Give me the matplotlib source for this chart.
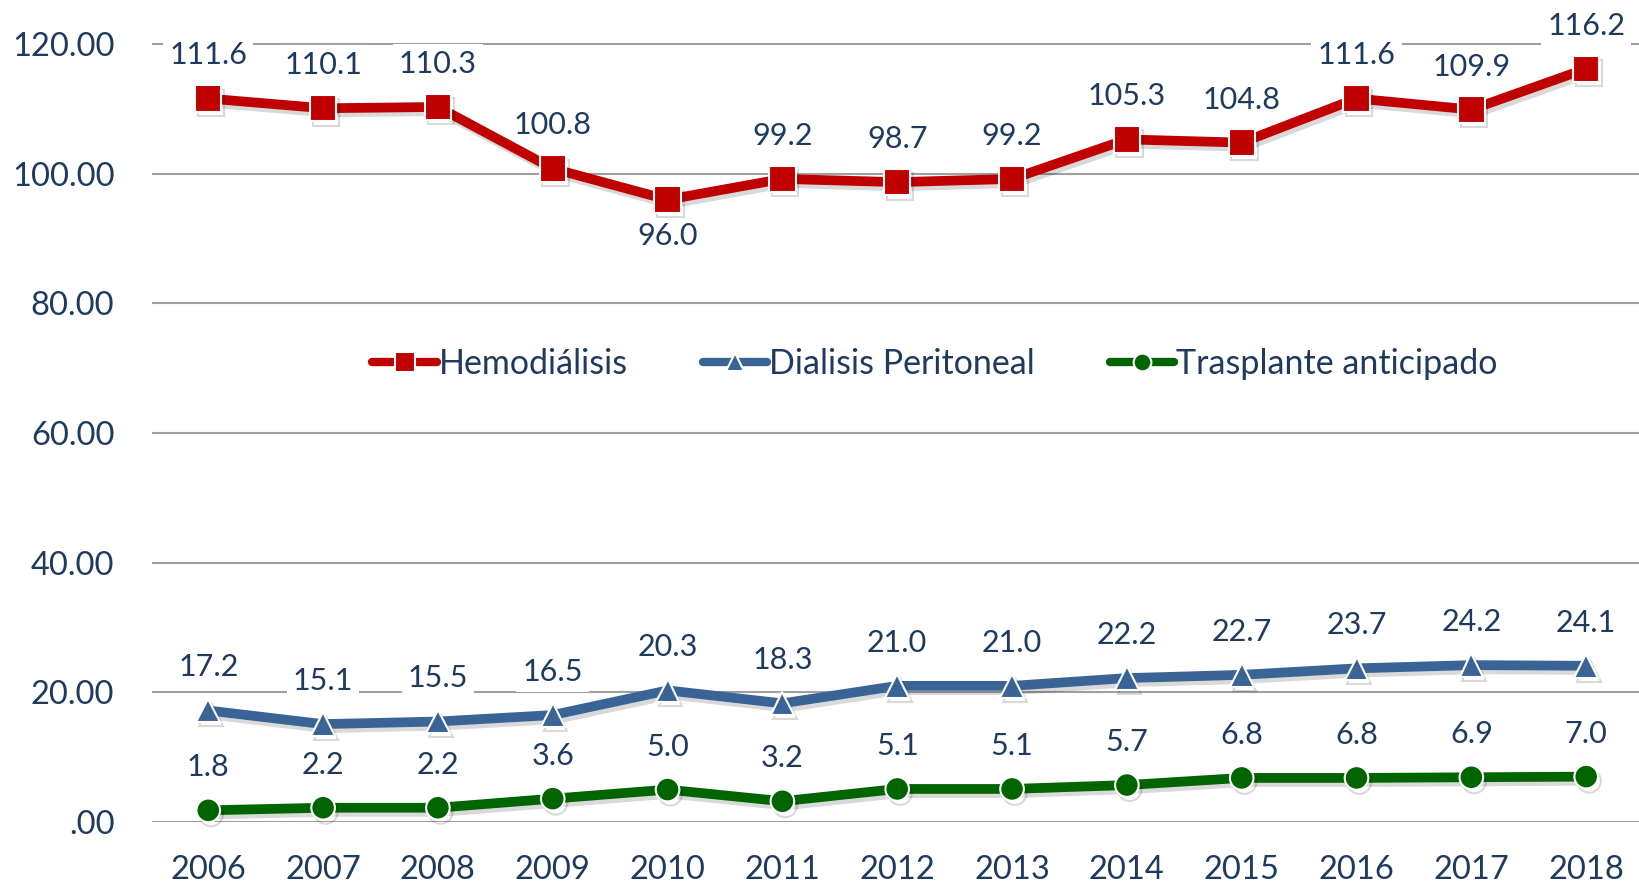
import matplotlib
matplotlib.use("Agg")
import matplotlib.pyplot as plt
import matplotlib.patheffects as pe

# --- data ---
years = [2006, 2007, 2008, 2009, 2010, 2011, 2012, 2013, 2014, 2015, 2016, 2017, 2018]
hemo = [111.6, 110.1, 110.3, 100.8, 96.0, 99.2, 98.7, 99.2, 105.3, 104.8, 111.6, 109.9, 116.2]
dp = [17.2, 15.1, 15.5, 16.5, 20.3, 18.3, 21.0, 21.0, 22.2, 22.7, 23.7, 24.2, 24.1]
tras = [1.8, 2.2, 2.2, 3.6, 5.0, 3.2, 5.1, 5.1, 5.7, 6.8, 6.8, 6.9, 7.0]
yticks = [0, 20, 40, 60, 80, 100, 120]

TXT = "#1F3A5F"
plt.rcParams['font.family'] = ['Lato', 'DejaVu Sans']

fig = plt.figure(figsize=(16.39, 8.88), dpi=100)
ax = fig.add_axes([152 / 1639, 1 - 822 / 888, 1 - 152 / 1639, 822 / 888])

shadow = [pe.SimpleLineShadow(offset=(2, -3), shadow_color='k', alpha=0.15), pe.Normal()]

series = [
    (hemo, 'Hemodiálisis', '#C00000', 's', 19),
    (dp, 'Dialisis Peritoneal', '#3A6496', '^', 17),
    (tras, 'Trasplante anticipado', '#006400', 'o', 17),
]
handles = []
for vals, name, col, mk, ms in series:
    h, = ax.plot(years, vals, color=col, lw=7, marker=mk, markersize=ms,
                 markeredgecolor='white', markeredgewidth=1.5, label=name,
                 solid_joinstyle='miter', clip_on=False, zorder=3,
                 path_effects=shadow)
    handles.append(h)
    for x, v in zip(years, vals):
        dy = -26 if (name == 'Hemodiálisis' and v == 96.0) else 31
        ax.annotate(f"{v:.1f}", (x, v), xytext=(0, dy), textcoords='offset points',
                    ha='center', va='center', fontsize=22, color=TXT, zorder=2,
                    bbox=dict(boxstyle='square,pad=0.2', fc='white', ec='none'))

ax.set_xlim(2005.51, 2018.46)
ax.set_ylim(0, 126.8)
ax.set_yticks(yticks)
ax.set_yticklabels([f"{v:.2f}".lstrip('0') if v == 0 else f"{v:.2f}" for v in yticks])
ax.set_xticks(years)
ax.tick_params(axis='both', length=0, labelsize=23.5, labelcolor=TXT)
ax.tick_params(axis='y', pad=27)
ax.tick_params(axis='x', pad=24)
ax.grid(axis='y', color='#A0A0A0', lw=1.5, zorder=0)
ax.set_axisbelow(True)
for s in ax.spines.values():
    s.set_visible(False)

leg = ax.legend(handles=handles, loc='center', bbox_to_anchor=(0.5265, 0.557), ncol=3,
                frameon=False, fontsize=24.5, handlelength=1.9, handletextpad=0.05,
                columnspacing=2.2, markerscale=0.75)
for t in leg.get_texts():
    t.set_color(TXT)
for lh in leg.get_lines():
    lh.set_path_effects([])
    lh.set_linewidth(6)
    lh.set_solid_capstyle('round')

fig.savefig("out.png", dpi=100)
